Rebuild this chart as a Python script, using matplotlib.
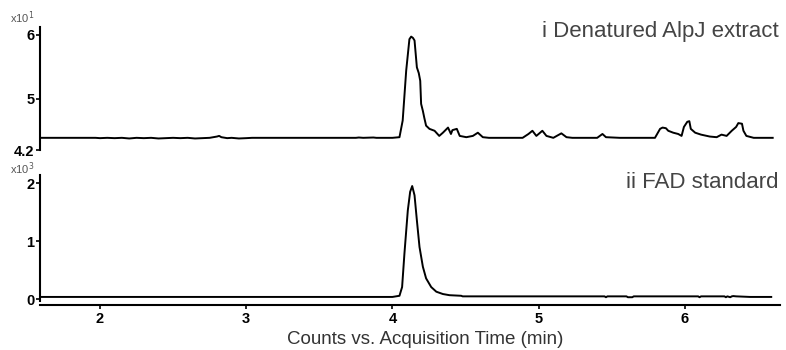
import matplotlib
matplotlib.use("Agg")
import matplotlib.pyplot as plt

plt.rcParams['font.family'] = ['Liberation Sans', 'DejaVu Sans']

# ---- data ----
# top panel: Denatured AlpJ extract, counts x10^1
t_top = [1.60, 1.97, 2.00, 2.05, 2.10, 2.15, 2.20, 2.25, 2.30, 2.35, 2.40, 2.45, 2.50,
         2.55, 2.60, 2.65, 2.70, 2.75, 2.80, 2.815, 2.83, 2.87, 2.90, 2.95, 3.00, 3.04,
         3.10, 3.75, 3.77, 3.80, 3.87, 3.89, 4.00, 4.048, 4.07, 4.094, 4.116, 4.128,
         4.14, 4.151, 4.167, 4.180, 4.190, 4.196, 4.208, 4.218, 4.23, 4.253, 4.288,
         4.32, 4.345, 4.38, 4.40, 4.41, 4.44, 4.46, 4.505, 4.55, 4.584, 4.618, 4.66,
         4.89, 4.93, 4.957, 4.984, 5.025, 5.053, 5.10, 5.155, 5.19, 5.23, 5.40, 5.436,
         5.46, 5.555, 5.795, 5.83, 5.847, 5.87, 5.886, 5.92, 5.954, 5.977, 5.993, 6.016,
         6.03, 6.04, 6.07, 6.11, 6.17, 6.217, 6.25, 6.285, 6.32, 6.35, 6.365, 6.39,
         6.40, 6.42, 6.47, 6.60]
v_top = [4.39, 4.39, 4.385, 4.39, 4.385, 4.39, 4.38, 4.39, 4.385, 4.39, 4.38, 4.385, 4.39,
         4.385, 4.39, 4.38, 4.385, 4.39, 4.41, 4.42, 4.40, 4.385, 4.39, 4.38, 4.385, 4.39,
         4.39, 4.39, 4.395, 4.39, 4.395, 4.39, 4.39, 4.40, 4.66, 5.44, 5.93, 5.97,
         5.95, 5.91, 5.49, 5.40, 5.28, 4.92, 4.81, 4.70, 4.58, 4.53, 4.50,
         4.42, 4.47, 4.55, 4.45, 4.51, 4.53, 4.42, 4.40, 4.42, 4.47, 4.40, 4.39,
         4.39, 4.45, 4.50, 4.42, 4.50, 4.42, 4.39, 4.46, 4.40, 4.39, 4.39, 4.45,
         4.40, 4.39, 4.39, 4.53, 4.55, 4.54, 4.50, 4.47, 4.45, 4.42, 4.56, 4.64,
         4.65, 4.53, 4.47, 4.44, 4.41, 4.40, 4.44, 4.42, 4.50, 4.56, 4.62, 4.61,
         4.50, 4.42, 4.39, 4.39]

# bottom panel: FAD standard, counts x10^3
t_bot = [1.60, 4.00, 4.048, 4.066, 4.082, 4.105, 4.121, 4.135, 4.151, 4.167, 4.185,
         4.208, 4.23, 4.265, 4.30, 4.345, 4.39, 4.47, 4.48, 5.45, 5.46, 5.47, 5.60,
         5.61, 5.64, 5.65, 6.09, 6.10, 6.11, 6.27, 6.28, 6.29, 6.31, 6.32, 6.33, 6.35,
         6.445, 6.59]
v_bot = [0.04, 0.04, 0.06, 0.21, 0.79, 1.53, 1.85, 1.95, 1.79, 1.36, 0.90,
         0.56, 0.36, 0.21, 0.13, 0.09, 0.07, 0.06, 0.05, 0.05, 0.035, 0.05, 0.05,
         0.035, 0.035, 0.05, 0.05, 0.035, 0.05, 0.05, 0.035, 0.05, 0.035, 0.05, 0.055, 0.05,
         0.04, 0.04]

x_ticks = [2, 3, 4, 5, 6]
top_yticks = [4.2, 5, 6]
top_yticklabels = ['4.2', '5', '6']
bot_yticks = [0, 1, 2]
bot_yticklabels = ['0', '1', '2']

label_top = 'i Denatured AlpJ extract'
label_bot = 'ii FAD standard'
xlabel = 'Counts vs. Acquisition Time (min)'

# ---- figure ----
W, H = 786, 350
fig = plt.figure(figsize=(W / 100, H / 100), dpi=100)

def ax_rect(x0, y0, x1, y1):
    return [x0 / W, 1 - y1 / H, (x1 - x0) / W, (y1 - y0) / H]

xlim = (1.59, 6.65)
ax1 = fig.add_axes(ax_rect(40, 27, 780, 150))
ax2 = fig.add_axes(ax_rect(40, 175, 780, 301))

for ax in (ax1, ax2):
    for s in ('top', 'right'):
        ax.spines[s].set_visible(False)
    ax.spines['left'].set_linewidth(1.5)
    ax.set_xlim(*xlim)
    ax.tick_params(axis='y', length=3, width=1.2, pad=1, labelsize=10)

ax1.plot(t_top, v_top, color='black', lw=1.4)
ax1.set_ylim(4.2, 6.12)
ax1.set_yticks(top_yticks)
ax1.set_yticklabels(top_yticklabels, fontweight='bold', fontsize=10.5)
ax1.spines['bottom'].set_visible(False)
ax1.set_xticks([])

ax2.plot(t_bot, v_bot, color='black', lw=1.4)
ax2.set_ylim(-0.03, 2.14)
ax2.set_yticks(bot_yticks)
ax2.set_yticklabels(bot_yticklabels, fontweight='bold', fontsize=10.5)
ax2.spines['bottom'].set_position(('outward', 3))
ax2.spines['bottom'].set_linewidth(1.5)
ax2.set_xticks(x_ticks)
ax2.set_xticklabels([str(v) for v in x_ticks], fontweight='bold', fontsize=10.5)
ax2.tick_params(axis='x', length=3, width=1.2, pad=2)

fig.text(779 / W, 1 - 32 / H, label_top, ha='right', va='center',
         fontsize=16, color='#444444')
fig.text(779 / W, 1 - 182 / H, label_bot, ha='right', va='center',
         fontsize=16, color='#444444')

fig.text(10 / W, 1 - 18 / H, r'x10$^1$', fontsize=8, color='#555555', ha='left', va='center')
fig.text(10 / W, 1 - 169 / H, r'x10$^3$', fontsize=8, color='#555555', ha='left', va='center')

fig.text(425 / W, 1 - 339 / H, xlabel, fontsize=13.5, color='#333333', ha='center', va='center')

fig.savefig('out.png', dpi=100)
